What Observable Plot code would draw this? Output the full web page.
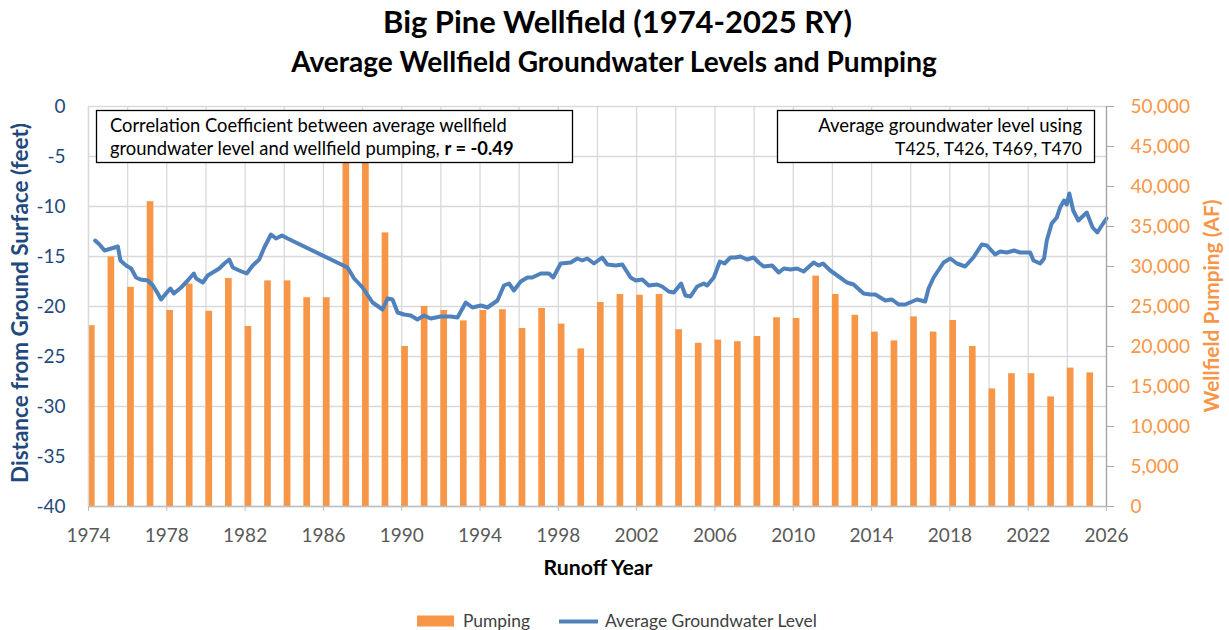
<!DOCTYPE html>
<html><head><meta charset="utf-8">
<script src="https://cdn.jsdelivr.net/npm/d3@7"></script>
<script src="https://cdn.jsdelivr.net/npm/@observablehq/plot@0.6"></script>
<style>
html,body{margin:0;padding:0;background:#fff;}
#chart{width:1229px;height:630px;overflow:hidden;position:relative;}
svg{font-family:Lato,"Open Sans",sans-serif;}
</style></head><body><div id="chart"></div>
<script>
// ---- data ----
const years = [1974,1975,1976,1977,1978,1979,1980,1981,1982,1983,1984,1985,1986,1987,1988,1989,1990,1991,1992,1993,1994,1995,1996,1997,1998,1999,2000,2001,2002,2003,2004,2005,2006,2007,2008,2009,2010,2011,2012,2013,2014,2015,2016,2017,2018,2019,2020,2021,2022,2023,2024,2025];
const pumping = [22600,31200,27400,38100,24500,27800,24400,28500,22500,28200,28200,26100,26100,45500,45500,34200,20000,25000,24500,23200,24500,24600,22250,24750,22800,19700,25500,26500,26400,26500,22100,20400,20800,20600,21250,23600,23500,28800,26500,23900,21800,20700,23700,21800,23250,20000,14700,16600,16600,13700,17300,16700];
const gwYear = [1974.34,1974.56,1974.82,1975.16,1975.50,1975.63,1975.92,1976.18,1976.43,1976.65,1977.03,1977.29,1977.54,1977.71,1977.96,1978.18,1978.36,1978.73,1979.07,1979.38,1979.50,1979.84,1980.09,1980.43,1980.68,1980.94,1981.19,1981.37,1981.70,1982.08,1982.39,1982.72,1982.98,1983.32,1983.58,1983.88,1984.17,1987.23,1987.57,1988.00,1988.51,1989.02,1989.28,1989.53,1989.79,1990.12,1990.46,1990.80,1991.14,1991.48,1991.99,1992.50,1992.85,1993.27,1993.61,1994.04,1994.38,1994.89,1995.22,1995.48,1995.73,1996.08,1996.42,1996.67,1997.10,1997.52,1997.74,1998.12,1998.63,1998.97,1999.22,1999.48,1999.82,2000.24,2000.50,2000.93,2001.27,2001.69,2001.95,2002.29,2002.62,2003.05,2003.30,2003.64,2003.90,2004.27,2004.49,2004.75,2005.09,2005.43,2005.60,2005.94,2006.25,2006.49,2006.79,2007.05,2007.30,2007.64,2007.98,2008.23,2008.49,2008.92,2009.26,2009.52,2009.86,2010.19,2010.53,2011.04,2011.30,2011.52,2011.89,2012.32,2012.74,2013.08,2013.59,2013.93,2014.19,2014.70,2015.04,2015.38,2015.72,2016.32,2016.74,2016.91,2017.17,2017.68,2018.02,2018.36,2018.78,2019.20,2019.63,2019.89,2020.31,2020.57,2020.91,2021.28,2021.59,2022.10,2022.27,2022.61,2022.81,2022.95,2023.20,2023.46,2023.63,2023.83,2023.97,2024.10,2024.30,2024.56,2024.99,2025.29,2025.53,2025.76,2026.00];
const gwLevel = [-13.4,-13.8,-14.4,-14.2,-14.0,-15.4,-15.9,-16.2,-17.1,-17.3,-17.4,-17.9,-18.7,-19.3,-18.7,-18.2,-18.7,-18.1,-17.4,-16.7,-17.2,-17.6,-16.9,-16.5,-16.2,-15.7,-15.3,-16.1,-16.4,-16.7,-15.9,-15.3,-14.1,-12.8,-13.2,-12.9,-13.2,-16.1,-17.2,-18.1,-19.6,-20.3,-19.2,-19.3,-20.6,-20.8,-20.9,-21.3,-20.9,-21.2,-21.0,-21.0,-21.1,-19.6,-20.1,-19.9,-20.1,-19.4,-17.9,-17.7,-18.4,-17.5,-17.1,-17.1,-16.7,-16.7,-17.1,-15.7,-15.6,-15.2,-15.4,-15.2,-15.7,-15.1,-15.8,-15.9,-15.8,-17.1,-17.4,-17.3,-17.9,-17.8,-18.0,-18.5,-18.6,-17.7,-18.9,-19.0,-18.0,-17.7,-17.9,-17.1,-15.5,-15.7,-15.1,-15.1,-15.0,-15.3,-15.1,-15.6,-16.0,-15.9,-16.6,-16.2,-16.3,-16.2,-16.5,-15.6,-15.9,-15.7,-16.4,-17.0,-17.6,-17.8,-18.7,-18.8,-18.8,-19.4,-19.3,-19.8,-19.8,-19.3,-19.5,-18.2,-17.1,-15.6,-15.2,-15.7,-16.0,-15.1,-13.8,-13.9,-14.8,-14.5,-14.6,-14.4,-14.6,-14.6,-15.4,-15.7,-15.2,-13.4,-11.7,-11.1,-10.1,-9.4,-9.8,-8.7,-10.4,-11.4,-10.6,-12.1,-12.6,-11.9,-11.2];
const levelTicks = [-40,-35,-30,-25,-20,-15,-10,-5,0];
const pumpTicks = [0,5000,10000,15000,20000,25000,30000,35000,40000,45000,50000];
const yearTicks = [1974,1978,1982,1986,1990,1994,1998,2002,2006,2010,2014,2018,2022,2026];
const gridYears = [1974,1976,1978,1980,1982,1984,1986,1988,1990,1992,1994,1996,1998,2000,2002,2004,2006,2008,2010,2012,2014,2016,2018,2020,2022,2024,2026];

// ---- build tables ----
const pumpData = years.map((y, i) => ({year: y, pump: pumping[i]}));
const gwData = gwYear.map((y, i) => ({t: y, level: gwLevel[i]}));
// secondary axis: 0..50,000 AF mapped onto -40..0 ft
const pumpToFt = p => p / 1250 - 40;

const ORANGE = "#F79646", BLUE = "#4F81BD", NAVY = "#1F497D";

const plot = Plot.plot({
  width: 1229, height: 630,
  marginLeft: 88, marginRight: 123, marginTop: 106, marginBottom: 124,
  x: {domain: [1974, 2026]},
  y: {domain: [-40, 0]},
  style: {fontFamily: "Lato, 'Open Sans', sans-serif", background: "#fff", overflow: "visible"},
  marks: [
    Plot.gridY(levelTicks, {stroke: "#D9D9D9", strokeOpacity: 1, strokeWidth: 1.3}),
    Plot.gridX(gridYears, {stroke: "#D9D9D9", strokeOpacity: 1, strokeWidth: 1.3}),
    Plot.rect(pumpData, {x1: d => d.year, x2: d => d.year + 0.34, y1: () => -40, y2: d => pumpToFt(d.pump), fill: ORANGE}),
    Plot.line(gwData, {x: "t", y: "level", stroke: BLUE, strokeWidth: 4, strokeLinejoin: "round", strokeLinecap: "round"}),
    Plot.ruleX([1974], {stroke: "#D9D9D9", strokeWidth: 1.3}),
    Plot.ruleY([-40], {stroke: "#BFBFBF", strokeWidth: 1.3}),
    Plot.ruleX([2026], {stroke: "#A6A6A6", strokeWidth: 1.3}),
    Plot.axisY(levelTicks, {anchor: "left", tickSize: 0, tickPadding: 23, fill: NAVY, fontSize: 19, label: null, tickFormat: d => String(d)}),
    Plot.axisY(pumpTicks.map(pumpToFt), {anchor: "right", tickSize: 7, tickPadding: 17, stroke: "#A6A6A6", fill: ORANGE, fontSize: 19, label: null,
      tickFormat: d => d3.format(",")(Math.round((d + 40) * 1250))}),
    Plot.axisX(yearTicks, {anchor: "bottom", tickSize: 5, tickPadding: 17, stroke: "#BFBFBF", fill: "#595959", fontSize: 19, label: null, tickFormat: d => String(d)})
  ]
});
document.getElementById("chart").appendChild(plot);

const svg = d3.select(plot);
function txt(o) {
  const t = svg.append("text")
    .attr("x", o.x).attr("y", o.y)
    .attr("text-anchor", o.anchor || "start")
    .attr("font-size", o.size || 18)
    .attr("font-weight", o.weight || "normal")
    .attr("fill", o.fill || "#000");
  if (o.rotate) t.attr("transform", `rotate(${o.rotate},${o.x},${o.y})`);
  if (o.parts) {
    o.parts.forEach(p => t.append("tspan").attr("font-weight", p.bold ? "bold" : "normal").text(p.text));
  } else t.text(o.text);
  if (o.width) {
    const w = t.node().getComputedTextLength();
    const s = (o.size || 18) * o.width / w;
    t.attr("font-size", s);
  }
  return t;
}

// titles
txt({x: 617.5, y: 33, text: "Big Pine Wellfield (1974-2025 RY)", size: 27, weight: "bold", anchor: "middle", width: 469});
txt({x: 614, y: 72, text: "Average Wellfield Groundwater Levels and Pumping", size: 23, weight: "bold", anchor: "middle", width: 646});
// axis titles
txt({x: 28, y: 303, text: "Distance from Ground Surface (feet)", size: 19, weight: "bold", fill: NAVY, anchor: "middle", rotate: -90, width: 360});
txt({x: 1219, y: 306, text: "Wellfield Pumping (AF)", size: 19, weight: "bold", fill: ORANGE, anchor: "middle", rotate: -90, width: 213});
txt({x: 598, y: 575, text: "Runoff Year", size: 19, weight: "bold", anchor: "middle", width: 109});

// annotation boxes
svg.append("rect").attr("x", 96.5).attr("y", 110.5).attr("width", 476).attr("height", 52).attr("fill", "#fff").attr("stroke", "#000").attr("stroke-width", 1.3);
txt({x: 110, y: 132, text: "Correlation Coefficient between average wellfield", size: 17, fill: "#000", width: 397});
txt({x: 110, y: 155, parts: [{text: "groundwater level and wellfield pumping, "}, {text: "r = -0.49", bold: true}], size: 17, fill: "#000", width: 404});
svg.append("rect").attr("x", 777.5).attr("y", 110.5).attr("width", 317).attr("height", 52).attr("fill", "#fff").attr("stroke", "#000").attr("stroke-width", 1.3);
txt({x: 1082, y: 132, text: "Average groundwater level using", size: 17, fill: "#000", anchor: "end", width: 264});
txt({x: 1082, y: 155, text: "T425, T426, T469, T470", size: 17, fill: "#000", anchor: "end", width: 187});

// legend
svg.append("rect").attr("x", 417).attr("y", 615.5).attr("width", 37).attr("height", 11).attr("fill", ORANGE);
txt({x: 463, y: 627, text: "Pumping", size: 17, fill: "#404040", width: 67});
svg.append("line").attr("x1", 559).attr("x2", 598).attr("y1", 621.5).attr("y2", 621.5).attr("stroke", BLUE).attr("stroke-width", 4);
txt({x: 605, y: 627, text: "Average Groundwater Level", size: 17, fill: "#404040", width: 212});
</script></body></html>
